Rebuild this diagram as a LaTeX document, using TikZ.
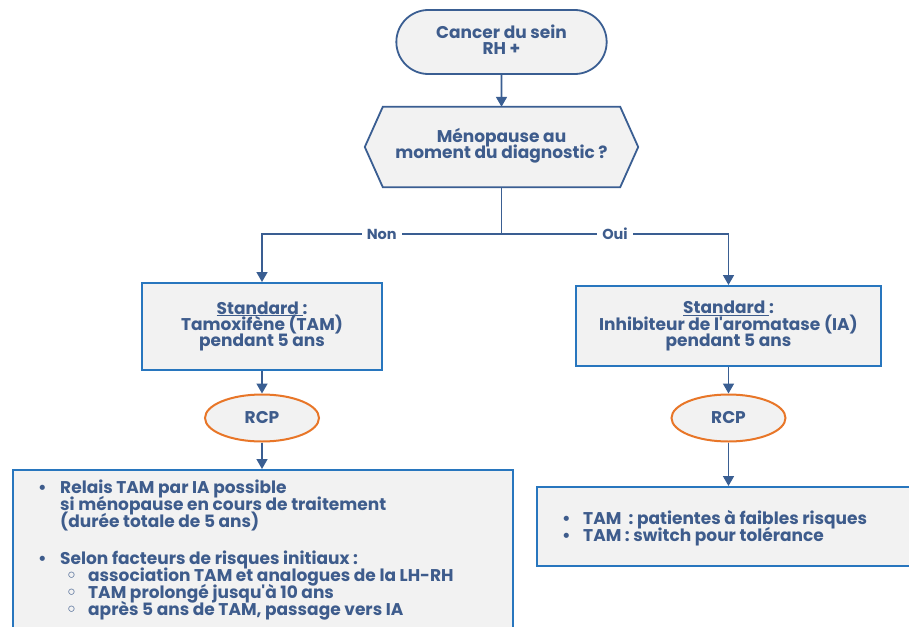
\documentclass[tikz,border=0pt]{standalone}
\usepackage{fontspec}
\setmainfont{Poppins}[Ligatures=TeXOff]
\newfontfamily\symfont{DejaVu Sans}
\usetikzlibrary{shapes.misc,shapes.geometric,arrows.meta,backgrounds}

\definecolor{inkblue}{RGB}{62,92,140}
\definecolor{wireblue}{RGB}{58,94,146}
\definecolor{frameblue}{RGB}{40,118,190}
\definecolor{rcporange}{RGB}{232,118,40}
\definecolor{paper}{RGB}{242,242,242}

% tight leading: lines never pushed apart by tall glyphs
\newcommand{\tightfont}[2]{\bfseries\fontsize{#1}{#2}\selectfont\lineskiplimit=-30pt\lineskip=0pt}

\begin{document}
\begin{tikzpicture}[x=1pt,y=-1pt,
  every node/.style={text=inkblue, font=\tightfont{17}{16.4}},
  term/.style={rounded rectangle, draw=wireblue, line width=1.8pt, fill=paper,
    minimum width=217pt, minimum height=64pt, align=center, text depth=5pt},
  stdbox/.style={rectangle, draw=frameblue, line width=2pt, fill=paper, align=center},
  rcp/.style={ellipse, draw=rcporange, line width=2pt, fill=paper,
    minimum width=114pt, minimum height=47pt},
  flow/.style={draw=wireblue, line width=1.6pt, -{Triangle[length=10pt,width=11pt]}},
  wire/.style={draw=wireblue, line width=1.6pt},
  tag/.style={fill=white, font=\tightfont{14.5}{14}, inner sep=5pt},
  listtext/.style={anchor=north west, align=left, inner sep=0pt,
    font=\tightfont{17}{16.8}},
]
\useasboundingbox (0,0) rectangle (909,626);

% start
\node[term] (start) at (501.5,42) {Cancer du sein\\RH +};

% decision (hexagon drawn behind the text)
\node[minimum width=273pt, minimum height=80pt, align=center, text depth=7pt] (q) at (501.5,147)
  {Ménopause au\\moment du diagnostic ?};
\begin{scope}[on background layer]
  \fill[white] (0,0) rectangle (909,626);
  \draw[wireblue, line width=1.8pt, fill=paper, line join=miter]
    (q.west) -- ([xshift=18pt]q.north west) -- ([xshift=-18pt]q.north east)
    -- (q.east) -- ([xshift=-18pt]q.south east) -- ([xshift=18pt]q.south west) -- cycle;
\end{scope}
\draw[flow] (start) -- (q);

% branches
\coordinate (split) at (501.5,234);
\node[stdbox, minimum width=240pt, minimum height=87pt] (stdL) at (262,326.5)
  {\underline{Standard }:\\Tamoxifène (TAM)\\pendant 5 ans};
\node[stdbox, minimum width=305pt, minimum height=80pt] (stdR) at (728.5,326)
  {\underline{Standard }:\\Inhibiteur de l'aromatase (IA)\\pendant 5 ans};
\draw[wire] (q.south) -- (split);
\draw[flow] (split) -| node[tag, pos=0.25] {Non} (stdL.north);
\draw[flow] (split) -| node[tag, pos=0.25] {Oui} (stdR.north);

% RCP
\node[rcp] (rcpL) at (262,418) {RCP};
\node[rcp] (rcpR) at (728.5,418) {RCP};
\draw[flow] (stdL) -- (rcpL);
\draw[flow] (stdR) -- (rcpR);

% plans
\node[stdbox, anchor=north west, minimum width=500pt, minimum height=200pt] (planL) at (12,469) {};
\node[stdbox, anchor=north west, minimum width=380pt, minimum height=79pt] (planR) at (536,486) {};
\draw[flow] (rcpL.south) -- (rcpL.south |- planL.north);
\draw[flow] (rcpR.south) -- (rcpR.south |- planR.north);

\node[listtext] (listL) at (38,480) {%
  \makebox[22pt][l]{•}Relais TAM par IA possible\\
  \hspace*{22pt}si ménopause en cours de traitement\\
  \hspace*{22pt}(durée totale de 5 ans)\\[20.5pt]
  \makebox[22pt][l]{•}Selon facteurs de risques initiaux :\\
  \hspace*{28pt}\makebox[22pt][l]{\symfont ◦}association TAM et analogues de la LH-RH\\
  \hspace*{28pt}\makebox[22pt][l]{\symfont ◦}TAM prolongé jusqu'à 10 ans\\
  \hspace*{28pt}\makebox[22pt][l]{\symfont ◦}après 5 ans de TAM, passage vers IA};

\node[listtext] (listR) at (562,510) {%
  \makebox[21pt][l]{•}TAM\ \ : patientes à faibles risques\\
  \makebox[21pt][l]{•}TAM : switch pour tolérance};
\end{tikzpicture}
\end{document}
